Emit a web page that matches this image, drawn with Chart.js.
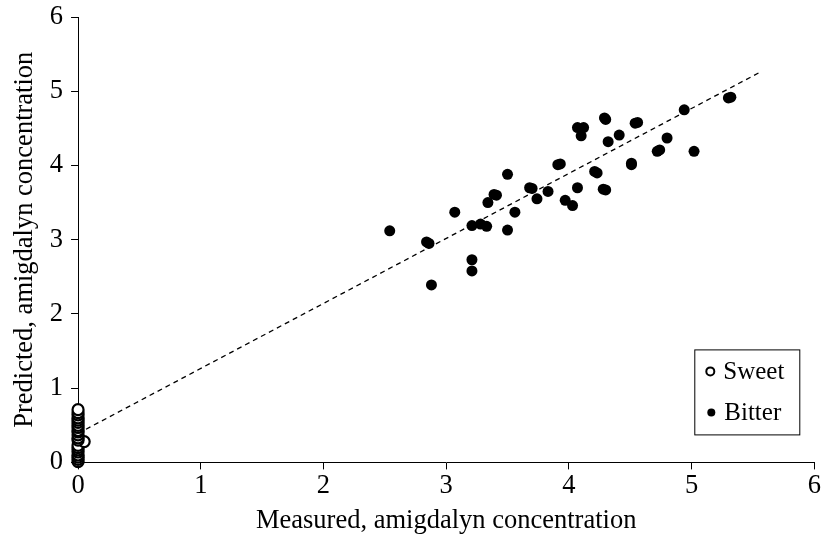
<!DOCTYPE html>
<html>
<head>
<meta charset="utf-8">
<script src="https://cdn.jsdelivr.net/npm/chart.js@4"></script>
<style>
  html, body { margin: 0; padding: 0; background: #fff; }
  #wrap { width: 822px; height: 542px; }
</style>
</head>
<body>
<div id="wrap"><canvas id="chart" width="822" height="542"></canvas></div>
<script>
// Sweet samples (open circles), all measured at ~0
const sweetX = [0, 0, 0, 0, 0, 0, 0, 0, 0.05, 0, 0, 0, 0, 0, 0, 0, 0, 0, 0, 0, 0, 0]
const sweetY = [0.01, 0.04, 0.07, 0.1, 0.14, 0.17, 0.2, 0.23, 0.28, 0.3, 0.33, 0.37, 0.41, 0.43, 0.47, 0.5, 0.54, 0.57, 0.6, 0.64, 0.67, 0.71]

// Bitter samples (filled dots)
const bitterX = [2.54, 2.84, 2.86, 2.88, 3.07, 3.21, 3.28, 3.33, 3.21, 3.21, 3.34, 3.39, 3.41, 3.50, 3.50,
  3.56, 3.68, 3.70, 3.74, 3.83, 3.91, 3.93, 3.97, 4.03, 4.07, 4.07, 4.12, 4.10, 4.21, 4.23, 4.28, 4.30,
  4.29, 4.30, 4.32, 4.41, 4.51, 4.51, 4.54, 4.56, 4.72, 4.74, 4.80, 4.94, 5.02, 5.30, 5.32]
const bitterY = [3.12, 2.97, 2.95, 2.39, 3.37, 3.19, 3.21, 3.18, 2.73, 2.58, 3.50, 3.61, 3.60, 3.88, 3.13,
  3.37, 3.70, 3.69, 3.55, 3.65, 4.01, 4.02, 3.53, 3.46, 3.70, 4.51, 4.51, 4.40, 3.92, 3.90, 3.68, 3.67,
  4.64, 4.62, 4.32, 4.41, 4.01, 4.03, 4.57, 4.58, 4.19, 4.21, 4.37, 4.75, 4.19, 4.91, 4.92]

// Fitted line (dashed)
const fitX = [0, 5.55]
const fitY = [0.39, 5.25]

const xTicks = [0, 1, 2, 3, 4, 5, 6]
const yTicks = [0, 1, 2, 3, 4, 5, 6]

const toPoints = (xs, ys) => xs.map((x, i) => ({ x, y: ys[i] }))

const FONT = 'Liberation Serif, Times New Roman, serif'

// Boxed legend drawn inside the plot, bottom right
const boxLegend = {
  id: 'boxLegend',
  afterDraw(chart) {
    const { ctx, chartArea } = chart
    const left = chartArea.right - 120
    const top = chartArea.bottom - 113
    const w = 105, h = 85
    ctx.save()
    ctx.fillStyle = '#fff'
    ctx.fillRect(left, top, w, h)
    ctx.strokeStyle = '#000'
    ctx.lineWidth = 1
    ctx.strokeRect(left + 0.5, top + 0.5, w, h)

    ctx.font = '25px ' + FONT
    ctx.fillStyle = '#000'
    ctx.textBaseline = 'middle'

    // Sweet
    ctx.beginPath()
    ctx.arc(left + 16, top + 22, 4, 0, Math.PI * 2)
    ctx.lineWidth = 2
    ctx.stroke()
    ctx.fillText(chart.data.datasets[0].label, left + 29, top + 23)

    // Bitter
    ctx.beginPath()
    ctx.arc(left + 17, top + 63, 4, 0, Math.PI * 2)
    ctx.fill()
    ctx.fillText(chart.data.datasets[1].label, left + 30, top + 64)
    ctx.restore()
  }
}

const axisStyle = {
  grid: { display: true, drawOnChartArea: false, drawTicks: true, tickLength: 7, color: '#000' },
  border: { display: true, color: '#000', width: 1 }
}

new Chart(document.getElementById('chart'), {
  type: 'scatter',
  data: {
    datasets: [
      {
        label: 'Sweet',
        data: toPoints(sweetX, sweetY),
        clip: false,
        pointRadius: 5.5,
        pointBorderWidth: 2.2,
        pointBackgroundColor: '#fff',
        pointBorderColor: '#000'
      },
      {
        label: 'Bitter',
        data: toPoints(bitterX, bitterY),
        clip: false,
        pointRadius: 5.5,
        pointBorderWidth: 0,
        pointBackgroundColor: '#000',
        pointBorderColor: '#000'
      },
      {
        label: 'Fit',
        type: 'line',
        data: toPoints(fitX, fitY),
        borderColor: '#000',
        borderWidth: 1.3,
        borderDash: [5, 4],
        pointRadius: 0,
        fill: false
      }
    ]
  },
  options: {
    responsive: false,
    animation: false,
    layout: { padding: { top: 17, right: 0, left: 0, bottom: 1 } },
    plugins: {
      legend: { display: false },
      tooltip: { enabled: false }
    },
    scales: {
      x: {
        type: 'linear',
        min: 0,
        max: 6,
        afterBuildTicks: s => { s.ticks = xTicks.map(v => ({ value: v })) },
        afterFit: s => { s.paddingLeft = 0; s.paddingRight = 0 },
        ticks: { color: '#000', font: { family: FONT, size: 26.5 }, padding: 1 },
        title: { display: true, text: 'Measured, amigdalyn concentration', color: '#000', font: { family: FONT, size: 26.5 }, padding: { top: 2 } },
        ...axisStyle
      },
      y: {
        type: 'linear',
        min: 0,
        max: 6,
        afterBuildTicks: s => { s.ticks = yTicks.map(v => ({ value: v })) },
        afterFit: s => { s.paddingTop = 0; s.paddingBottom = 0 },
        ticks: { color: '#000', font: { family: FONT, size: 26.5, lineHeight: 1 }, padding: 8 },
        title: { display: true, text: 'Predicted, amigdalyn concentration', color: '#000', font: { family: FONT, size: 26.5 }, padding: { top: 9, bottom: 1 } },
        ...axisStyle
      }
    }
  },
  plugins: [boxLegend]
})
</script>
</body>
</html>
